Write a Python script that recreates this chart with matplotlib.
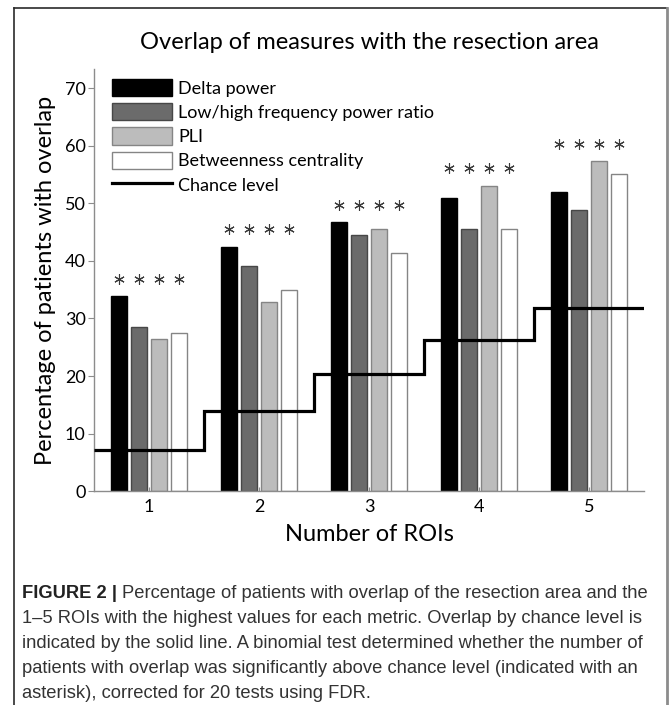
import numpy as np
import matplotlib
matplotlib.use('Agg')
from matplotlib import pyplot as plt
from matplotlib.patches import Patch
from matplotlib.lines import Line2D

rois = [1, 2, 3, 4, 5]
delta_power = [33.9, 42.5, 46.7, 50.9, 52.0]
low_high_ratio = [28.6, 39.2, 44.5, 45.6, 48.8]
pli = [26.5, 32.8, 45.6, 53.1, 57.3]
betweenness = [27.5, 35.0, 41.4, 45.6, 55.1]
chance_level = [7.2, 14.0, 20.4, 26.3, 31.9]
significant = [[True, True, True, True]] * 5

names = ['Delta power', 'Low/high frequency power ratio', 'PLI',
         'Betweenness centrality']
faces = ['#000000', '#6b6b6b', '#bcbcbc', '#ffffff']
edges = ['#000000', '#474747', '#858585', '#858585']

plt.rcParams['font.family'] = ['Lato', 'DejaVu Sans']

fig = plt.figure(figsize=(6.69, 7.05), dpi=100)
ax = fig.add_axes([0.1405, 0.3035, 0.822, 0.598])

series = [delta_power, low_high_ratio, pli, betweenness]
x = np.array(rois, dtype=float)
step = 0.182
width = 0.145
for i, vals in enumerate(series):
    ax.bar(x + (i - 1.5) * step, vals, width, color=faces[i],
           edgecolor=edges[i], linewidth=1.0, zorder=2)

# chance level as stairs
edges_x = np.concatenate([x - 0.5, [x[-1] + 0.5]])
ax.stairs(chance_level, edges_x, color='black', linewidth=2.3, zorder=3,
          baseline=None)

# asterisks above each bar
top = np.max(np.array(series), axis=0)
for g in range(len(rois)):
    for i in range(4):
        if significant[g][i]:
            ax.plot(x[g] + (i - 1.5) * step, top[g] + 3.0, marker=(6, 2, 0),
                    markersize=7.5, color='#3a3a3a', mew=0.8, zorder=4)

ax.set_xlim(0.5, 5.5)
ax.set_ylim(0, 73.3)
ax.set_xticks(rois)
ax.set_yticks(range(0, 71, 10))
for s in ['top', 'right']:
    ax.spines[s].set_visible(False)
for s in ['left', 'bottom']:
    ax.spines[s].set_color('#8c8c8c')
    ax.spines[s].set_linewidth(1.0)
ax.tick_params(axis='y', direction='out', length=4, color='#8c8c8c',
               labelsize=13, pad=2)
ax.tick_params(axis='x', direction='in', length=3, color='#8c8c8c',
               labelsize=13, pad=6)

ax.set_title('Overlap of measures with the resection area', fontsize=17,
             pad=15)
ax.set_xlabel('Number of ROIs', fontsize=17, labelpad=6)
ax.set_ylabel('Percentage of patients with overlap', fontsize=17, labelpad=6)

handles = [Patch(facecolor=faces[i], edgecolor=edges[i], linewidth=1.0)
           for i in range(4)]
handles.append(Line2D([], [], color='black', linewidth=2.3))
ax.legend(handles, names + ['Chance level'], loc='upper left',
          bbox_to_anchor=(0.033, 0.978), frameon=False, fontsize=13,
          handlelength=3.3, handleheight=1.1, labelspacing=0.36,
          handletextpad=0.35, borderpad=0, borderaxespad=0)

# frame round the figure panel
fig.add_artist(Line2D([14 / 669, 667 / 669], [1 - 8 / 705, 1 - 8 / 705],
                      color='#2a2a2a', linewidth=1.2))
fig.add_artist(Line2D([14 / 669, 14 / 669], [1 - 8 / 705, 0],
                      color='#2a2a2a', linewidth=1.2))
fig.add_artist(Line2D([667 / 669, 667 / 669], [1 - 8 / 705, 0],
                      color='#8c8c8c', linewidth=2.0))

# caption
cap_font = ['Liberation Sans', 'DejaVu Sans']
cap_size = 13.2
lines = ['Percentage of patients with overlap of the resection area and the',
         '1\u20135 ROIs with the highest values for each metric. Overlap by chance level is',
         'indicated by the solid line. A binomial test determined whether the number of',
         'patients with overlap was significantly above chance level (indicated with an',
         'asterisk), corrected for 20 tests using FDR.']
x0 = 22 / 669
y0 = 1 - 598 / 705
dy = 25 / 705
bold = fig.text(x0, y0, 'FIGURE 2 |', fontsize=cap_size, family=cap_font,
                weight='bold', color='#222222', va='baseline')
fig.canvas.draw()
bb = bold.get_window_extent()
x1 = (bb.x1 + 5) / fig.bbox.width
fig.text(x1, y0, lines[0], fontsize=cap_size, family=cap_font,
         color='#333333', va='baseline')
for k, ln in enumerate(lines[1:], start=1):
    fig.text(x0, y0 - k * dy, ln, fontsize=cap_size, family=cap_font,
             color='#333333', va='baseline')

fig.savefig('out.png', dpi=100)
